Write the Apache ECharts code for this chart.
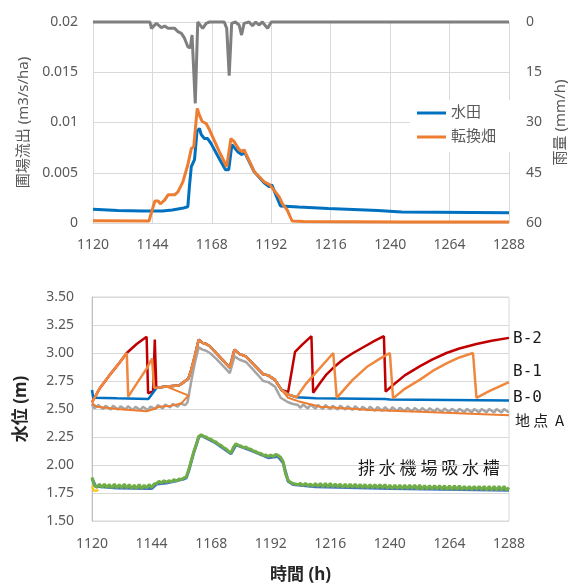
<!DOCTYPE html>
<html>
<head>
<meta charset="utf-8">
<script src="https://cdn.jsdelivr.net/npm/echarts@6/dist/echarts.min.js"></script>
<style>
  html, body { margin: 0; padding: 0; background: #fff; }
  #chart { width: 571px; height: 585px; }
</style>
</head>
<body>
<div id="chart"></div>
<script>
// ---- top chart: field outflow (m3/s/ha) and rainfall (mm/h) ----
var rain = [[1120,0],[1143,0],[1143.6,1.9],[1145.6,0.4],[1147.6,1.7],[1149,1.2],[1150.3,1.9],[1153,1.9],
  [1154.3,2.9],[1155.7,3.4],[1157,4.9],[1158.3,7.4],[1159.3,7.7],[1160,3.9],[1161.3,24.3],[1162.3,0],
  [1164.3,1.9],[1165.7,0.4],[1167,0],[1173,0],[1174,1.9],[1175,16],[1176,0.4],[1177.5,0],[1179,0.9],
  [1180,3.9],[1181,0.4],[1183,0],[1184.4,1.1],[1185.7,0],[1187,0.9],[1188.4,0],[1190.5,1.9],[1192,0],[1288,0]];

var paddy = [[1120,0.00136],[1130,0.00125],[1140,0.0012],[1148,0.0012],[1152,0.0013],[1156,0.00146],
  [1158.3,0.00162],[1159,0.0038],[1159.7,0.0056],[1161,0.0063],[1162,0.0091],[1163,0.0094],[1163.7,0.0088],
  [1165,0.0084],[1166.3,0.0084],[1167.7,0.0079],[1171,0.0064],[1173.5,0.0053],[1174.8,0.0053],[1176.1,0.0078],
  [1178.4,0.0071],[1180.2,0.0068],[1181.1,0.0071],[1185.1,0.0051],[1189.1,0.004],[1191.2,0.0036],
  [1192.2,0.0038],[1195.7,0.0017],[1203,0.0016],[1215,0.00144],[1235,0.00124],[1244.6,0.0011],[1288,0.00103]];

var upland = [[1120,0.00023],[1142.6,0.0002],[1145,0.0022],[1146.3,0.0022],[1147.2,0.0019],[1149,0.0023],
  [1150.3,0.0028],[1153,0.0028],[1154.3,0.0031],[1156.3,0.0041],[1158.3,0.0058],[1159.7,0.0074],
  [1160.7,0.0076],[1162.1,0.0114],[1163,0.0107],[1164.1,0.0101],[1165.7,0.0099],[1167,0.0093],[1171,0.0071],
  [1174,0.0056],[1174.8,0.0056],[1175.7,0.0084],[1177,0.0081],[1179,0.0073],[1180.4,0.0071],[1181,0.0073],
  [1185.1,0.0051],[1189.1,0.0041],[1191.4,0.0038],[1192.2,0.0039],[1195.2,0.0026],[1196.5,0.0019],
  [1198.4,0.0013],[1200.4,0.0002],[1205,0.00015],[1244,0.0001],[1288,0.0001]];

// ---- bottom chart: water level (m) ----
// common flood curve shared by B-2 / B-1 / B-0 (they overlap there)
var floodLevel = [[1150,2.70],[1155,2.71],[1157,2.74],[1158.8,2.77],[1160,2.85],[1161.5,2.98],[1163,3.12],
  [1164.5,3.09],[1166,3.08],[1167.5,3.06],[1170,3.0],[1173,2.93],[1175.5,2.87],[1177.4,3.03],[1179.5,2.99],
  [1182,2.97],[1185,2.90],[1189,2.81],[1191,2.80],[1193.7,2.76],[1196.4,2.67]];

var b2Before = [[1120,2.56],[1123,2.68],[1127,2.80],[1131,2.91],[1134,3.0],[1138,3.08],[1142,3.145],
  [1142.6,2.64],[1144.6,2.66],[1145.3,3.12],[1145.9,2.69]];
var b2After = [[1199,2.65],[1201.8,3.01],[1204.5,3.07],[1208.4,3.15],[1209.1,2.645],[1211.8,2.73],
  [1214.5,2.81],[1217.8,2.88],[1221,2.94],[1225.2,3.0],[1230,3.06],[1234,3.11],[1237.6,3.15],[1238.3,2.655],
  [1241.3,2.715],[1246,2.80],[1252,2.88],[1257,2.94],[1262.8,3.0],[1268,3.04],[1274.9,3.08],[1281,3.11],[1288,3.135]];

var b1Before = [[1120,2.56],[1123,2.68],[1127,2.80],[1131,2.91],[1134,3.0],[1134.6,2.61],[1139,2.76],
  [1142,2.86],[1144.2,2.95],[1145,2.69],[1146,2.69]];
var b1After = [[1199,2.63],[1202.4,2.605],[1206,2.72],[1210,2.82],[1214,2.92],[1217.2,3.0],[1218.6,2.60],
  [1225,2.76],[1231,2.88],[1236,2.95],[1240,3.0],[1241.3,2.595],[1246,2.68],[1252,2.76],[1258,2.85],
  [1263,2.91],[1268,2.96],[1273.5,3.0],[1274.9,2.6],[1280,2.66],[1288,2.74]];

var b0Before = [[1120,2.67],[1120.5,2.60],[1130,2.595],[1142.7,2.59],[1145.4,2.67],[1146,2.69]];
var b0After = [[1199,2.63],[1202.4,2.605],[1210,2.597],[1238,2.59],[1240,2.585],[1288,2.575]];

var pointA = [[1120,2.54],[1121,2.505],[1122.5,2.535],[1124.5,2.50],[1125.5,2.53],[1127.5,2.495],[1128.5,2.53],
  [1130.5,2.495],[1131.5,2.525],[1133.5,2.495],[1134.5,2.525],[1136.5,2.49],[1137.5,2.52],[1139.5,2.49],
  [1140.5,2.52],[1142.5,2.49],[1143.5,2.52],[1145.5,2.50],[1146.5,2.535],[1148.5,2.505],[1149.5,2.54],
  [1151.5,2.515],[1152.5,2.545],[1154.5,2.52],[1155.5,2.55],[1157.5,2.535],[1158.5,2.56],
  [1160,2.75],[1161.5,2.92],[1163,3.05],[1164.5,3.03],[1166,3.02],[1167.5,3.0],[1170,2.95],[1173,2.88],
  [1175.5,2.82],[1177.4,2.97],[1179.5,2.94],[1182,2.92],[1185,2.85],[1189,2.75],[1191,2.74],[1193.7,2.70],
  [1196,2.60],[1199,2.56],[1201,2.545],[1203,2.535],[1204,2.51],
  [1205,2.54],[1207,2.505],[1208,2.54],[1210,2.503],[1211,2.535],[1213,2.50],[1214,2.535],[1216,2.498],
  [1217,2.53],[1219,2.495],[1220,2.53],[1222,2.495],[1223,2.525],[1225,2.492],[1226,2.525],[1228,2.49],
  [1229,2.52],[1231,2.488],[1232,2.52],[1234,2.485],[1235,2.518],[1237,2.485],[1238,2.515],[1240,2.483],
  [1241,2.515],[1243,2.481],[1244,2.512],[1246,2.48],[1247,2.51],[1249,2.478],[1250,2.51],[1252,2.477],
  [1253,2.508],[1255,2.475],[1256,2.506],[1258,2.475],[1259,2.505],[1261,2.473],[1262,2.504],[1264,2.473],
  [1265,2.503],[1267,2.472],[1268,2.502],[1270,2.471],[1271,2.501],[1273,2.471],[1274,2.50],[1276,2.47],
  [1277,2.50],[1279,2.47],[1280,2.50],[1282,2.469],[1283,2.50],[1285,2.469],[1286,2.50],[1288,2.469]];

var lowOrangeBefore = [[1120,2.55],[1122,2.52],[1130,2.50],[1142,2.48],[1145,2.50],[1147,2.52],[1152,2.53],
  [1156,2.55],[1158,2.60],[1159,2.62]];
var lowOrangeAfter = [[1199,2.60],[1203,2.57],[1212,2.52],[1232,2.49],[1252,2.475],[1270,2.46],[1288,2.445]];

var lightBlue = [[1120,2.545],[1121,2.525],[1123,2.52]];

// pump station intake tank, hourly from 1120 to 1288
var tankStart = 1120;
var tankGreen = [
  1.89,1.815,1.80,1.83,1.80,1.83,1.80,1.825,1.795,1.83,
  1.795,1.825,1.795,1.83,1.795,1.825,1.79,1.82,1.79,1.825,
  1.79,1.82,1.795,1.825,1.80,1.83,1.835,1.855,1.84,1.86,
  1.845,1.86,1.85,1.87,1.855,1.875,1.87,1.885,1.895,1.96,
  2.04,2.12,2.18,2.255,2.27,2.255,2.25,2.235,2.23,2.21,
  2.205,2.185,2.175,2.155,2.145,2.12,2.11,2.16,2.19,2.175,
  2.17,2.155,2.16,2.145,2.14,2.125,2.12,2.105,2.105,2.085,
  2.09,2.075,2.09,2.075,2.095,2.085,2.07,2.03,1.92,1.865,
  1.845,1.835,1.83,1.825,1.835,1.815,1.835,1.815,1.83,1.81,
  1.835,1.81,1.835,1.805,1.835,1.805,1.835,1.805,1.83,1.805,
  1.83,1.80,1.83,1.80,1.83,1.80,1.83,1.80,1.825,1.80,
  1.825,1.795,1.825,1.795,1.825,1.795,1.825,1.795,1.825,1.79,
  1.82,1.79,1.82,1.79,1.82,1.79,1.82,1.79,1.82,1.79,
  1.82,1.785,1.82,1.785,1.815,1.785,1.815,1.785,1.815,1.785,
  1.815,1.785,1.815,1.78,1.815,1.78,1.815,1.78,1.815,1.78,
  1.81,1.78,1.81,1.78,1.81,1.78,1.81,1.78,1.81,1.775,
  1.81,1.775,1.81,1.775,1.81,1.775,1.81,1.775,1.80];
var tankBlue = [[1120,1.88],[1121.5,1.81],[1130,1.795],[1144,1.79],[1146,1.83],[1150,1.84],[1157,1.875],
  [1158,1.885],[1159,1.95],[1161,2.11],[1163,2.25],[1164,2.265],[1170,2.195],[1176,2.10],[1178,2.18],
  [1184,2.13],[1191,2.065],[1195,2.075],[1197,2.02],[1199,1.855],[1201,1.825],[1210,1.805],[1240,1.79],[1288,1.775]];
var tankYellow = [[1120,1.81],[1120.7,1.77],[1121.5,1.785],[1122,1.77],[1122.5,1.78]];

var hourTicks = { min: 1120, max: 1288, interval: 24 };

var chart = echarts.init(document.getElementById('chart'));

var font = '"Noto Sans", "Noto Sans CJK JP", sans-serif';
var labelStyle = { color: '#595959', fontSize: 14, fontFamily: font };

function line(name, data, color, width, xi, yi) {
  return {
    name: name, type: 'line', data: data, xAxisIndex: xi, yAxisIndex: yi,
    showSymbol: false, symbol: 'none', clip: false,
    lineStyle: { color: color, width: width }, itemStyle: { color: color }
  };
}

var tankData = tankGreen.map(function (v, i) { return [tankStart + i, v]; });

var option = {
  animation: false,
  backgroundColor: '#fff',
  textStyle: { fontFamily: font },
  grid: [
    { left: 93, top: 22, width: 416, height: 201, outerBoundsMode: 'none', containLabel: false },
    { left: 92, top: 297, width: 417, height: 224, outerBoundsMode: 'none', containLabel: false,
      show: true, borderColor: '#D9D9D9', borderWidth: 1 }
  ],
  legend: {
    data: ['水田', '転換畑'],
    orient: 'vertical',
    left: 410, top: 100,
    padding: [5, 14, 7, 7],
    itemGap: 8,
    itemWidth: 29, itemHeight: 3,
    icon: 'rect',
    backgroundColor: '#fff',
    textStyle: { color: '#595959', fontSize: 15, fontFamily: font, lineHeight: 16 }
  },
  xAxis: [
    {
      type: 'value', gridIndex: 0, min: hourTicks.min, max: hourTicks.max, interval: hourTicks.interval,
      axisLine: { show: true, lineStyle: { color: '#D9D9D9' } },
      axisTick: { show: false },
      axisLabel: Object.assign({ margin: 15, formatter: function (v) { return String(v); } }, labelStyle),
      splitLine: { show: true, lineStyle: { color: '#D9D9D9' } }
    },
    {
      type: 'value', gridIndex: 1, min: hourTicks.min, max: hourTicks.max, interval: hourTicks.interval,
      name: '時間 (h)', nameLocation: 'middle', nameGap: 46,
      nameTextStyle: { color: '#262626', fontSize: 17, fontWeight: 'bold', fontFamily: font },
      axisLine: { show: false },
      axisTick: { show: false },
      axisLabel: Object.assign({ margin: 16, formatter: function (v) { return String(v); } }, labelStyle),
      splitLine: { show: false }
    }
  ],
  yAxis: [
    {
      type: 'value', gridIndex: 0, min: 0, max: 0.02, interval: 0.005,
      name: '圃場流出 (m3/s/ha)', nameLocation: 'middle', nameGap: 62,
      nameTextStyle: { color: '#595959', fontSize: 15, fontFamily: font },
      axisLine: { show: false }, axisTick: { show: false },
      axisLabel: Object.assign({ margin: 15, formatter: function (v) { return String(+v.toFixed(3)); } }, labelStyle),
      splitLine: { show: true, lineStyle: { color: '#D9D9D9' } }
    },
    {
      type: 'value', gridIndex: 0, position: 'right', inverse: true, min: 0, max: 60, interval: 15,
      name: '雨量 (mm/h)', nameLocation: 'middle', nameGap: 44,
      nameTextStyle: { color: '#595959', fontSize: 15, fontFamily: font },
      axisLine: { show: false }, axisTick: { show: false },
      axisLabel: Object.assign({ margin: 17 }, labelStyle),
      splitLine: { show: false }
    },
    {
      type: 'value', gridIndex: 1, min: 1.5, max: 3.5, interval: 0.25,
      name: '水位 (m)', nameLocation: 'middle', nameGap: 62,
      nameTextStyle: { color: '#262626', fontSize: 17, fontWeight: 'bold', fontFamily: font },
      axisLine: { show: true, lineStyle: { color: '#BFBFBF' } }, axisTick: { show: false },
      axisLabel: Object.assign({ margin: 18, formatter: function (v) { return v.toFixed(2); } }, labelStyle),
      splitLine: { show: true, lineStyle: { color: '#D9D9D9' } }
    }
  ],
  series: [
    line('雨量', rain, '#7F7F7F', 3, 0, 1),
    line('水田', paddy, '#0070C0', 3, 0, 0),
    line('転換畑', upland, '#ED7D31', 3, 0, 0),

    line('tankBlue', tankBlue, '#4472C4', 3, 1, 2),
    line('排水機場吸水槽', tankData, '#70AD47', 3, 1, 2),
    line('tankYellow', tankYellow, '#FFC000', 2, 1, 2),
    line('lightBlue', lightBlue, '#5B9BD5', 2, 1, 2),
    line('B-2', b2Before.concat(floodLevel, b2After), '#C00000', 2.5, 1, 2),
    line('B-0', b0Before.concat(floodLevel, b0After), '#0070C0', 2.5, 1, 2),
    line('地点A', pointA, '#A5A5A5', 2.5, 1, 2),
    line('lowOrange', lowOrangeBefore.concat(floodLevel, lowOrangeAfter), '#ED7D31', 2, 1, 2),
    line('B-1', b1Before.concat(floodLevel, b1After), '#F0873E', 2.5, 1, 2)
  ],
  graphic: [
    { type: 'text', x: 513, y: 339, style: { text: 'B-2', font: '16px "DejaVu Sans Mono", monospace', fill: '#1a1a1a', verticalAlign: 'middle' } },
    { type: 'text', x: 513, y: 372, style: { text: 'B-1', font: '16px "DejaVu Sans Mono", monospace', fill: '#1a1a1a', verticalAlign: 'middle' } },
    { type: 'text', x: 513, y: 398, style: { text: 'B-0', font: '16px "DejaVu Sans Mono", monospace', fill: '#1a1a1a', verticalAlign: 'middle' } },
    { type: 'text', x: 515, y: 420, style: { text: '地 点  A', font: '15px "Noto Sans CJK JP"', fill: '#1a1a1a', verticalAlign: 'middle' } },
    { type: 'text', x: 358, y: 468, style: { text: '排 水 機 場 吸 水 槽', font: '17px "Noto Sans CJK JP"', fill: '#1a1a1a', verticalAlign: 'middle' } }
  ]
};

chart.setOption(option);
</script>
</body>
</html>
